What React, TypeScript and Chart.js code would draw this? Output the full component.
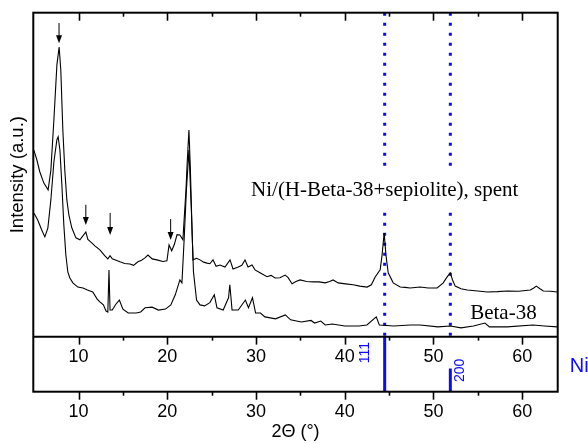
import React, { useEffect, useRef } from "react";
import { Chart, registerables } from "chart.js";

Chart.register(...registerables);

// ---------- axis ranges and ticks ----------
const X_MIN = 4.9;
const X_MAX = 64;
const Y_MIN = -17; // lower (reference) panel occupies -17..0
const Y_MAX = 100; // upper (pattern) panel occupies 0..100
const MAJOR_TICKS = [10, 20, 30, 40, 50, 60];
const MINOR_TICKS = [15, 25, 35, 45, 55];

// ---------- Ni/(H-Beta-38+sepiolite), spent ----------
const SPENT_2THETA = [
  4.96, 5.3, 5.63, 6.09, 6.57, 6.88, 7.22, 7.56, 7.81, 8.0, 8.23, 8.45, 8.68, 8.91, 9.24, 9.7,
  10.15, 10.49, 10.82, 11.05, 11.27, 11.84, 12.4, 12.97, 13.3, 13.55, 13.8, 14.09, 14.66, 15.2,
  15.79, 16.2, 16.69, 17.1, 17.48, 17.82, 18.3, 18.83, 19.5, 19.96, 20.2, 20.5, 20.8, 21.1, 21.42,
  21.76, 22.1, 22.25, 22.44, 22.6, 22.8, 22.9, 23.3, 23.69, 24.1, 24.48, 24.8, 25.15, 25.5, 25.94,
  26.5, 27.07, 27.41, 28.0, 28.4, 28.76, 29.1, 29.55, 29.89, 30.45, 30.9, 31.24, 31.7, 32.15,
  32.7, 33.28, 33.6, 34.06, 34.5, 34.97, 35.7, 36.44, 37.1, 37.79, 38.3, 38.69, 39.26, 40.1,
  40.94, 41.7, 42.52, 43.0, 43.43, 43.99, 44.2, 44.44, 44.65, 44.9, 45.46, 46.25, 46.8, 47.37,
  48.5, 49.4, 50.42, 51.1, 51.5, 51.89, 52.15, 52.45, 53.1, 53.81, 55.0, 56.06, 57.2, 58.32,
  59.6, 60.91, 61.3, 61.59, 62.0, 62.38, 63.2, 63.96,
];
const SPENT_INTENSITY = [
  57.6, 54.6, 50.9, 47.4, 45.3, 51.4, 66.9, 83.9, 89.4, 82.3, 63.8, 51.4, 42.2, 37.6, 33.6, 30.5,
  29.9, 31.1, 32.3, 30.0, 29.5, 28.0, 26.8, 24.9, 24.0, 25.0, 24.0, 23.7, 23.1, 22.6,
  22.4, 22.0, 23.1, 23.6, 24.3, 25.2, 24.0, 23.7, 23.2, 23.4, 28.3, 26.5, 28.5, 31.5, 31.4,
  29.9, 45.0, 54.0, 63.8, 52.0, 32.0, 23.7, 24.2, 23.7, 23.0, 22.7, 22.5, 23.7, 21.7, 22.1,
  21.5, 23.7, 20.9, 21.5, 22.0, 23.7, 21.5, 22.1, 20.6, 19.7, 19.0, 18.5, 18.9, 18.1,
  18.2, 19.0, 18.3, 16.3, 17.0, 17.5, 17.0, 16.9, 16.9, 16.6, 17.0, 17.5, 16.6, 16.3,
  16.0, 15.6, 15.3, 16.0, 18.4, 20.6, 25.0, 32.0, 25.0, 19.7, 16.6, 15.3, 15.2, 15.0,
  15.3, 15.0, 15.0, 16.6, 18.3, 19.7, 17.5, 15.6, 14.8, 14.4, 14.1, 13.8, 13.9, 14.1,
  14.0, 14.4, 15.0, 15.6, 14.8, 14.1, 14.0, 13.8,
];

// ---------- Beta-38 ----------
const BETA_2THETA = [
  4.96, 5.4, 5.85, 6.2, 6.54, 6.88, 7.22, 7.56, 7.7, 7.9, 8.12, 8.34, 8.57, 8.79, 9.02, 9.36,
  9.92, 10.5, 11.0, 11.6, 12.1, 12.4, 12.8, 13.1, 13.3, 13.43, 13.55, 13.8, 14.2, 14.6, 15.0,
  15.6, 16.5, 17.0, 17.5, 18.3, 19.0, 19.8, 20.4, 20.9, 21.42, 21.65, 21.9, 22.15, 22.44, 22.7,
  22.95, 23.3, 23.69, 24.2, 24.8, 25.3, 25.6, 26.3, 26.9, 27.05, 27.3, 28.0, 28.8, 29.15, 29.6,
  29.95, 30.5, 31.0, 32.2, 33.3, 33.9, 35.1, 36.2, 36.6, 37.3, 37.8, 38.6, 40.0, 41.6, 42.5,
  43.55, 43.9, 45.5, 47.4, 48.5, 50.5, 51.9, 53.1, 54.5, 55.8, 56.3, 58.3, 61.2, 62.5, 63.96,
];
const BETA_INTENSITY = [
  38.2, 36.0, 32.9, 30.8, 33.5, 42.2, 53.9, 60.8, 61.7, 57.6, 46.8, 34.5, 25.2, 20.0, 18.1, 16.6,
  15.3, 15.0, 14.4, 13.8, 11.6, 10.7, 9.8, 7.9, 7.6, 20.6, 8.2, 8.2, 10.0, 11.3, 8.5,
  7.3, 7.3, 7.6, 8.9, 9.1, 8.2, 8.5, 9.8, 12.9, 17.5, 16.6, 29.9, 45.0, 57.6, 40.0,
  20.0, 11.3, 9.8, 9.5, 10.5, 12.9, 8.9, 8.2, 12.0, 16.0, 8.2, 8.2, 11.3, 8.9, 12.0,
  7.3, 7.3, 6.1, 5.5, 6.7, 5.2, 4.5, 5.0, 4.2, 4.8, 3.6, 3.9, 3.3, 3.3, 3.6,
  6.1, 3.6, 3.3, 3.6, 3.6, 3.0, 3.3, 2.7, 3.3, 4.2, 3.0, 3.0, 3.6, 3.3, 3.0,
];

// ---------- Ni reference (lower panel) ----------
const NI_DOTTED_2THETA = [44.5, 51.9];
const NI_PEAK_2THETA = [44.5, 51.9];
const NI_PEAK_REL = [100, 42];
const NI_PEAK_HKL = ["111", "200"];

// ---------- arrows marking sepiolite reflections ----------
const ARROW_2THETA = [7.8, 10.82, 13.56, 20.38];
const ARROW_FROM = [96.8, 40.7, 38.2, 36.3];
const ARROW_TO = [90.6, 34.5, 31.4, 29.8];

const SANS = '"Liberation Sans", Arial, sans-serif';
const SERIF = '"Liberation Serif", "Times New Roman", serif';
const BLUE = "#0a0aff";

const decorPlugin = {
  id: "decor",
  afterDraw(chart: any) {
    const { ctx, chartArea } = chart;
    const xs = chart.scales.x;
    const ys = chart.scales.y;
    const { left, right, top, bottom } = chartArea;
    const yDiv = ys.getPixelForValue(0);
    ctx.save();

    // curve labels (with white box, which interrupts the dotted lines)
    ctx.font = `21px ${SERIF}`;
    ctx.textAlign = "left";
    ctx.textBaseline = "alphabetic";
    const spentText = "Ni/(H-Beta-38+sepiolite), spent";
    const lx = xs.getPixelForValue(29.44);
    const w = ctx.measureText(spentText).width;
    const boxTop = ys.getPixelForValue(52.4);
    const boxBot = ys.getPixelForValue(39.1);
    ctx.fillStyle = "#fff";
    ctx.fillRect(lx - 2, boxTop, w + 4, boxBot - boxTop);
    ctx.fillStyle = "#000";
    ctx.fillText(spentText, lx, ys.getPixelForValue(43.4));
    ctx.fillText("Beta-38", xs.getPixelForValue(54.14), ys.getPixelForValue(5.4));

    ctx.strokeStyle = "#000";
    ctx.lineWidth = 2;
    ctx.strokeRect(left, top, right - left, bottom - top);
    ctx.beginPath();
    ctx.moveTo(left, yDiv);
    ctx.lineTo(right, yDiv);
    ctx.stroke();

    // tick marks
    ctx.lineWidth = 1.6;
    const tick = (v: number, y: number, len: number) => {
      const px = Math.round(xs.getPixelForValue(v)) + 0.5;
      ctx.beginPath();
      ctx.moveTo(px, y);
      ctx.lineTo(px, y + len);
      ctx.stroke();
    };
    MAJOR_TICKS.forEach((v) => {
      tick(v, top, 8);
      tick(v, yDiv, 8);
      tick(v, bottom, 8);
    });
    MINOR_TICKS.forEach((v) => {
      tick(v, top, 4);
      tick(v, yDiv, 4);
      tick(v, bottom, 4);
    });

    // arrows
    ctx.fillStyle = "#000";
    ctx.lineWidth = 1;
    ARROW_2THETA.forEach((v, i) => {
      const px = xs.getPixelForValue(v);
      const y1 = ys.getPixelForValue(ARROW_FROM[i]);
      const y2 = ys.getPixelForValue(ARROW_TO[i]);
      ctx.beginPath();
      ctx.moveTo(px, y1);
      ctx.lineTo(px, y2 - 6);
      ctx.stroke();
      ctx.beginPath();
      ctx.moveTo(px - 3, y2 - 8);
      ctx.lineTo(px + 3, y2 - 8);
      ctx.lineTo(px, y2);
      ctx.closePath();
      ctx.fill();
    });

    // y title
    ctx.fillStyle = "#000";
    ctx.font = `18.5px ${SANS}`;
    ctx.textAlign = "center";
    ctx.textBaseline = "middle";
    ctx.save();
    ctx.translate(18, ys.getPixelForValue(50));
    ctx.rotate(-Math.PI / 2);
    ctx.fillText("Intensity (a.u.)", 0, 0);
    ctx.restore();

    // Ni reference labels
    ctx.fillStyle = BLUE;
    ctx.font = `14px ${SANS}`;
    ctx.textAlign = "center";
    ctx.textBaseline = "middle";
    const hklPos = [
      [42.35, -4.9],
      [52.96, -10.4],
    ];
    NI_PEAK_HKL.forEach((t, i) => {
      ctx.save();
      ctx.translate(xs.getPixelForValue(hklPos[i][0]), ys.getPixelForValue(hklPos[i][1]));
      ctx.rotate(-Math.PI / 2);
      ctx.fillText(t, 0, 0);
      ctx.restore();
    });
    ctx.font = `20px ${SANS}`;
    ctx.textAlign = "left";
    ctx.textBaseline = "alphabetic";
    ctx.fillText("Ni", right + 12, ys.getPixelForValue(-10.8));
    ctx.restore();
  },
};

export default function App() {
  const ref = useRef<HTMLCanvasElement | null>(null);

  useEffect(() => {
    if (!ref.current) return;
    const tickFont = { family: SANS, size: 18 };
    const majorTicks = (s: any) => {
      s.ticks = MAJOR_TICKS.map((v) => ({ value: v }));
    };

    const datasets: any[] = [
      {
        label: "Ni/(H-Beta-38+sepiolite), spent",
        data: SPENT_2THETA.map((x, i) => ({ x, y: SPENT_INTENSITY[i] })),
        borderColor: "#000",
        borderWidth: 1.1,
        pointRadius: 0,
        tension: 0,
      },
      {
        label: "Beta-38",
        data: BETA_2THETA.map((x, i) => ({ x, y: BETA_INTENSITY[i] })),
        borderColor: "#000",
        borderWidth: 1.1,
        pointRadius: 0,
        tension: 0,
      },
      ...NI_DOTTED_2THETA.map((x) => ({
        label: "Ni ref " + x,
        data: [
          { x, y: Y_MAX },
          { x, y: 0 },
        ],
        borderColor: BLUE,
        borderWidth: 3,
        borderDash: [3, 7],
        pointRadius: 0,
      })),
      ...NI_PEAK_2THETA.map((x, i) => ({
        label: "Ni " + NI_PEAK_HKL[i],
        data: [
          { x, y: Y_MIN },
          { x, y: Y_MIN + (NI_PEAK_REL[i] / 100) * (0 - Y_MIN) },
        ],
        borderColor: BLUE,
        borderWidth: 3,
        pointRadius: 0,
      })),
    ];

    const chart = new Chart(ref.current, {
      type: "line",
      data: { datasets },
      plugins: [decorPlugin],
      options: {
        animation: false,
        responsive: false,
        devicePixelRatio: 1,
        layout: { padding: { left: 0, right: 30.3, top: 12.7, bottom: 0 } },
        plugins: { legend: { display: false }, tooltip: { enabled: false } },
        scales: {
          x: {
            type: "linear",
            position: "bottom",
            min: X_MIN,
            max: X_MAX,
            afterBuildTicks: majorTicks,
            afterFit: (s: any) => {
              s.height = 51.3;
            },
            ticks: { font: tickFont, color: "#000", padding: 9.5, maxRotation: 0, autoSkip: false },
            grid: { display: false, drawTicks: false },
            border: { display: false },
            title: {
              display: true,
              text: "2Θ (°)",
              color: "#000",
              font: { family: SANS, size: 18 },
              padding: 0,
            },
          },
          x2: {
            type: "linear",
            axis: "x",
            position: { y: 0 },
            min: X_MIN,
            max: X_MAX,
            afterBuildTicks: majorTicks,
            ticks: { font: tickFont, color: "#000", padding: 9.5, maxRotation: 0, autoSkip: false },
            grid: { display: false, drawTicks: false },
            border: { display: false },
          },
          y: {
            type: "linear",
            min: Y_MIN,
            max: Y_MAX,
            afterFit: (s: any) => {
              s.width = 33.3;
            },
            ticks: { display: false },
            grid: { display: false, drawTicks: false },
            border: { display: false },
          },
        },
      } as any,
    });
    return () => chart.destroy();
  }, []);

  return (
    <div style={{ position: "fixed", left: 0, top: 0, width: 588, height: 443, background: "#fff" }}>
      <canvas ref={ref} width={588} height={443} style={{ display: "block" }} />
    </div>
  );
}
